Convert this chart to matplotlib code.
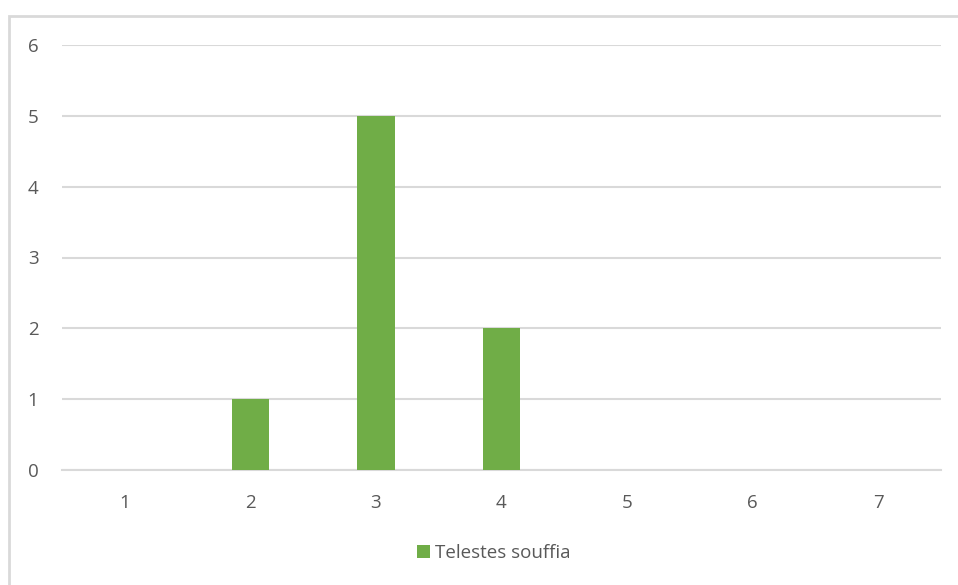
import matplotlib
matplotlib.use("Agg")
import matplotlib.pyplot as plt
from matplotlib.patches import Rectangle
import numpy as np

categories = ["1", "2", "3", "4", "5", "6", "7"]
counts = [0, 1, 5, 2, 0, 0, 0]
series_name = "Telestes souffia"

bar_color = "#70AD47"
grid_color = "#D9D9D9"
text_color = "#595959"

plt.rcParams["font.family"] = ["Open Sans", "DejaVu Sans"]

fig = plt.figure(figsize=(9.58, 5.85), dpi=100)
ax = fig.add_axes([62 / 958, 1 - 470 / 585, (941 - 62) / 958, (470 - 45) / 585])

x = np.arange(1, len(categories) + 1)
ax.bar(x, counts, width=0.30, color=bar_color, label=series_name, zorder=3)

ax.set_xlim(0.5, 7.5)
ax.set_ylim(0, 6)
ax.set_yticks(range(0, 7))
ax.set_xticks(x)
ax.set_xticklabels(categories)
ax.yaxis.grid(True, color=grid_color, linewidth=1.5, zorder=0)
ax.tick_params(axis="both", length=0, labelsize=13.5, labelcolor=text_color)
ax.tick_params(axis="y", pad=17)
ax.tick_params(axis="x", pad=17)
for s in ["top", "right", "left"]:
    ax.spines[s].set_visible(False)
ax.spines["bottom"].set_color(grid_color)
ax.spines["bottom"].set_linewidth(1.5)

leg = fig.legend(loc="center", bbox_to_anchor=(494 / 958, 1 - 553 / 585), frameon=False,
                 fontsize=13.5, handlelength=0.65, handleheight=0.65, handletextpad=0.3,
                 labelcolor=text_color)

# outer chart border (cropped on right and bottom)
fig.patches.append(Rectangle((9 / 958, -0.1), 1.2, (585 - 16) / 585 + 0.1,
                             transform=fig.transFigure, fill=False,
                             edgecolor=grid_color, linewidth=2))

fig.savefig("out.png", dpi=100)
